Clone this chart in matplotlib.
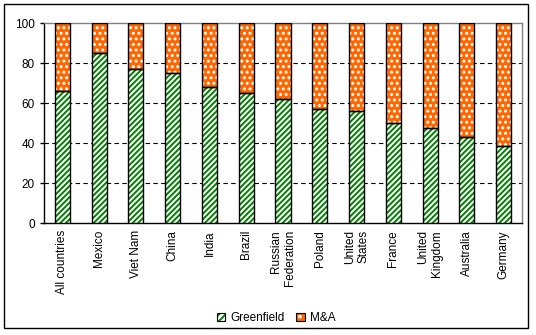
import matplotlib
matplotlib.use("Agg")
import matplotlib.pyplot as plt
from matplotlib.patches import Rectangle, Patch
import numpy as np

plt.rcParams['font.family'] = ['Liberation Sans', 'DejaVu Sans']
plt.rcParams['hatch.linewidth'] = 1.4

categories = ["All countries", "Mexico", "Viet Nam", "China", "India", "Brazil",
              "Russian\nFederation", "Poland", "United\nStates", "France",
              "United\nKingdom", "Australia", "Germany"]
greenfield = [66, 85, 77, 75, 68, 65.3, 62.3, 57.3, 56, 50, 47.5, 43, 38.5]
ma = [100 - g for g in greenfield]
yticks = [0, 20, 40, 60, 80, 100]

fig = plt.figure(figsize=(5.36, 3.35), dpi=100)
ax = fig.add_axes([0.082, 0.334, 0.892, 0.597])

x = np.arange(len(categories))
w = 0.41
green = '#008000'
orange = '#ff6600'

# Greenfield: white with green diagonal hatch
ax.bar(x, greenfield, w, color='white', edgecolor=green, hatch='//////', linewidth=0, zorder=3)
ax.bar(x, greenfield, w, fill=False, edgecolor='black', linewidth=1.0, zorder=4)
# M&A: orange with white dot pattern
ax.bar(x, ma, w, bottom=greenfield, color=orange, edgecolor='white', hatch='...', linewidth=0, zorder=3)
ax.bar(x, ma, w, bottom=greenfield, fill=False, edgecolor='black', linewidth=1.0, zorder=4)

ax.set_xlim(-0.5, len(categories) - 0.5)
ax.set_ylim(0, 100)
ax.set_yticks(yticks)
ax.tick_params(axis='y', labelsize=8.5, length=3, direction='out', width=1)
ax.set_xticks(x)
ax.set_xticklabels(categories, rotation=90, fontsize=8.5, ha='center', va='top',
                   multialignment='right')
ax.tick_params(axis='x', length=0, pad=5)

for v in [20, 40, 60, 80]:
    ax.axhline(v, color='black', linestyle=(0, (4, 3)), linewidth=0.8, zorder=1)

ax.spines['left'].set_color('black')
ax.spines['bottom'].set_color('black')
ax.spines['top'].set_color('#808080')
ax.spines['right'].set_color('#808080')
for s in ax.spines.values():
    s.set_linewidth(1.0)

h1 = (Patch(facecolor='white', edgecolor=green, hatch='/////', linewidth=0),
      Patch(fill=False, edgecolor='black', linewidth=0.8))
h2 = (Patch(facecolor=orange, edgecolor='white', hatch='..', linewidth=0),
      Patch(fill=False, edgecolor='black', linewidth=0.8))
leg = fig.legend(handles=[h1, h2], labels=['Greenfield', 'M&A'], loc='center',
                 bbox_to_anchor=(0.515, 0.05), ncol=2,
                 frameon=False, fontsize=8.5, handlelength=0.75, handleheight=0.75,
                 handletextpad=0.4, columnspacing=1.0)

fig.patches.append(Rectangle((4/536, 1 - 328/335), 524/536, 324/335, transform=fig.transFigure,
                             fill=False, edgecolor='black', linewidth=1.0))

fig.savefig('out.png', dpi=100)
